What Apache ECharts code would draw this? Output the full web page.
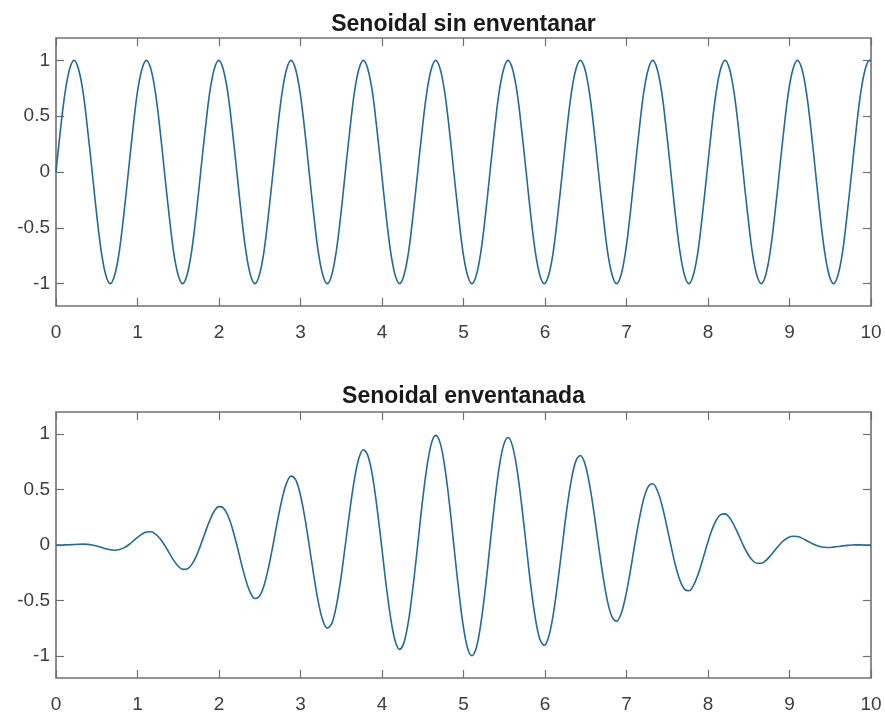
<!DOCTYPE html>
<html>
<head>
<meta charset="utf-8">
<script src="https://cdn.jsdelivr.net/npm/echarts@6/dist/echarts.min.js"></script>
<style>
  html, body { margin: 0; padding: 0; background: #ffffff; }
  #chart { width: 885px; height: 714px; }
</style>
</head>
<body>
<div id="chart"></div>
<script>
// Sample positions (time axis)
const xValues = [
  0, 0.055, 0.111, 0.166, 0.222, 0.277, 0.333, 0.388, 0.444, 0.499, 0.555, 0.610, 0.666, 0.721, 0.777, 0.832,
  0.888, 0.943, 0.998, 1.054, 1.109, 1.165, 1.220, 1.276, 1.331, 1.387, 1.442, 1.498, 1.553, 1.609, 1.664, 1.720,
  1.775, 1.831, 1.886, 1.941, 1.997, 2.052, 2.108, 2.163, 2.219, 2.274, 2.330, 2.385, 2.441, 2.496, 2.552, 2.607,
  2.663, 2.718, 2.774, 2.829, 2.884, 2.940, 2.995, 3.051, 3.106, 3.162, 3.217, 3.273, 3.328, 3.384, 3.439, 3.495,
  3.550, 3.606, 3.661, 3.716, 3.772, 3.827, 3.883, 3.938, 3.994, 4.049, 4.105, 4.160, 4.216, 4.271, 4.327, 4.382,
  4.438, 4.493, 4.549, 4.604, 4.659, 4.715, 4.770, 4.826, 4.881, 4.937, 4.992, 5.048, 5.103, 5.159, 5.214, 5.270,
  5.325, 5.381, 5.436, 5.492, 5.547, 5.602, 5.658, 5.713, 5.769, 5.824, 5.880, 5.935, 5.991, 6.046, 6.102, 6.157,
  6.213, 6.268, 6.324, 6.379, 6.434, 6.490, 6.545, 6.601, 6.656, 6.712, 6.767, 6.823, 6.878, 6.934, 6.989, 7.045,
  7.100, 7.156, 7.211, 7.267, 7.322, 7.377, 7.433, 7.488, 7.544, 7.599, 7.655, 7.710, 7.766, 7.821, 7.877, 7.932,
  7.988, 8.043, 8.099, 8.154, 8.210, 8.265, 8.320, 8.376, 8.431, 8.487, 8.542, 8.598, 8.653, 8.709, 8.764, 8.820,
  8.875, 8.931, 8.986, 9.042, 9.097, 9.153, 9.208, 9.264, 9.319, 9.374, 9.430, 9.485, 9.541, 9.596, 9.652, 9.707,
  9.763, 9.818, 9.874, 9.929, 9.984, 10
];

// Top panel: "Senoidal sin enventanar"
const rawSine = [
  0, 0.38, 0.71, 0.92, 1, 0.92, 0.71, 0.38, 0, -0.38, -0.71, -0.92, -1, -0.92, -0.71, -0.38,
  0, 0.38, 0.71, 0.92, 1, 0.92, 0.71, 0.38, 0, -0.38, -0.71, -0.92, -1, -0.92, -0.71, -0.38,
  0, 0.38, 0.71, 0.92, 1, 0.92, 0.71, 0.38, 0, -0.38, -0.71, -0.92, -1, -0.92, -0.71, -0.38,
  0, 0.38, 0.71, 0.92, 1, 0.92, 0.71, 0.38, 0, -0.38, -0.71, -0.92, -1, -0.92, -0.71, -0.38,
  0, 0.38, 0.71, 0.92, 1, 0.92, 0.71, 0.38, 0, -0.38, -0.71, -0.92, -1, -0.92, -0.71, -0.38,
  0, 0.38, 0.71, 0.92, 1, 0.92, 0.71, 0.38, 0, -0.38, -0.71, -0.92, -1, -0.92, -0.71, -0.38,
  0, 0.38, 0.71, 0.92, 1, 0.92, 0.71, 0.38, 0, -0.38, -0.71, -0.92, -1, -0.92, -0.71, -0.38,
  0, 0.38, 0.71, 0.92, 1, 0.92, 0.71, 0.38, 0, -0.38, -0.71, -0.92, -1, -0.92, -0.71, -0.38,
  0, 0.38, 0.71, 0.92, 1, 0.92, 0.71, 0.38, 0, -0.38, -0.71, -0.92, -1, -0.92, -0.71, -0.38,
  0, 0.38, 0.71, 0.92, 1, 0.92, 0.71, 0.38, 0, -0.38, -0.71, -0.92, -1, -0.92, -0.71, -0.38,
  0, 0.38, 0.71, 0.92, 1, 0.92, 0.71, 0.38, 0, -0.38, -0.71, -0.92, -1, -0.92, -0.71, -0.38,
  0, 0.38, 0.71, 0.92, 1, 1
];

// Bottom panel: "Senoidal enventanada"
const windowedSine = [
  0, 0.000, 0.001, 0.002, 0.005, 0.007, 0.008, 0.006, 0, -0.009, -0.021, -0.034, -0.043, -0.047, -0.041, -0.026,
  0, 0.033, 0.068, 0.098, 0.117, 0.119, 0.099, 0.058, 0, -0.068, -0.136, -0.190, -0.220, -0.217, -0.177, -0.102,
  0, 0.114, 0.221, 0.304, 0.346, 0.335, 0.268, 0.152, 0, -0.165, -0.317, -0.430, -0.483, -0.462, -0.366, -0.205,
  0, 0.218, 0.415, 0.558, 0.621, 0.589, 0.463, 0.257, 0, -0.269, -0.508, -0.679, -0.750, -0.707, -0.551, -0.304,
  0, 0.315, 0.590, 0.783, 0.860, 0.805, 0.624, 0.342, 0, -0.350, -0.653, -0.862, -0.942, -0.877, -0.676, -0.369,
  0, 0.374, 0.693, 0.910, 0.989, 0.917, 0.704, 0.382, 0, -0.383, -0.707, -0.924, -0.999, -0.922, -0.704, -0.380,
  0, 0.377, 0.693, 0.901, 0.970, 0.890, 0.676, 0.364, 0, -0.357, -0.653, -0.845, -0.905, -0.826, -0.624, -0.334,
  0, 0.325, 0.590, 0.759, 0.808, 0.734, 0.551, 0.293, 0, -0.281, -0.508, -0.650, -0.687, -0.620, -0.463, -0.244,
  0, 0.231, 0.415, 0.526, 0.552, 0.494, 0.366, 0.192, 0, -0.178, -0.317, -0.398, -0.413, -0.366, -0.268, -0.139,
  0, 0.126, 0.221, 0.274, 0.281, 0.245, 0.177, 0.090, 0, -0.079, -0.136, -0.165, -0.165, -0.141, -0.099, -0.049,
  0, 0.041, 0.068, 0.079, 0.076, 0.062, 0.041, 0.019, 0, -0.014, -0.021, -0.023, -0.019, -0.014, -0.008, -0.003,
  0, 0.001, 0.001, 0.000, 0.000, 0
];

const xTicks = [0, 1, 2, 3, 4, 5, 6, 7, 8, 9, 10];
const yTicks = [-1, -0.5, 0, 0.5, 1];
const titles = ['Senoidal sin enventanar', 'Senoidal enventanada'];

const FONT = "'Liberation Sans', Arial, Helvetica, sans-serif";
const AXIS_COLOR = '#707070';
const LABEL_COLOR = '#3d3d3d';
const LINE_COLOR = '#22699c';

function pairs(xs, ys) { return xs.map((x, i) => [x, ys[i]]); }

function xAxisPair(gridIndex) {
  const base = {
    gridIndex, type: 'value', min: xTicks[0], max: xTicks[xTicks.length - 1], interval: 1,
    axisLine: { show: false, onZero: false },
    axisTick: { show: true, inside: true, length: 8, lineStyle: { color: AXIS_COLOR, width: 1.2 } },
    splitLine: { show: false }
  };
  return [
    Object.assign({}, base, { position: 'bottom',
      axisLabel: { show: true, margin: 17, fontSize: 19, color: LABEL_COLOR, fontFamily: FONT } }),
    Object.assign({}, base, { position: 'top', axisLabel: { show: false } })
  ];
}

function yAxisPair(gridIndex) {
  const base = {
    gridIndex, type: 'value', min: -1.2, max: 1.2,
    axisLine: { show: false, onZero: false },
    axisTick: { show: true, inside: true, length: 8, customValues: yTicks,
      lineStyle: { color: AXIS_COLOR, width: 1.2 } },
    splitLine: { show: false }
  };
  return [
    Object.assign({}, base, { position: 'left',
      axisLabel: { show: true, customValues: yTicks, margin: 6, fontSize: 19, color: LABEL_COLOR, fontFamily: FONT } }),
    Object.assign({}, base, { position: 'right', axisLabel: { show: false } })
  ];
}

const chart = echarts.init(document.getElementById('chart'), null, { renderer: 'canvas' });
chart.setOption({
  backgroundColor: '#ffffff',
  animation: false,
  title: [
    { text: titles[0], left: 463.5, top: 13, textAlign: 'center', padding: 0,
      textStyle: { fontSize: 23, fontWeight: 'bold', color: '#1a1a1a', fontFamily: FONT } },
    { text: titles[1], left: 463.5, top: 385, textAlign: 'center', padding: 0,
      textStyle: { fontSize: 23, fontWeight: 'bold', color: '#1a1a1a', fontFamily: FONT } }
  ],
  grid: [
    { left: 56, right: 14, top: 38, height: 268, show: true, borderColor: AXIS_COLOR, borderWidth: 1.6, backgroundColor: '#ffffff' },
    { left: 56, right: 14, top: 412, height: 266, show: true, borderColor: AXIS_COLOR, borderWidth: 1.6, backgroundColor: '#ffffff' }
  ],
  xAxis: [].concat(xAxisPair(0), xAxisPair(1)),
  yAxis: [].concat(yAxisPair(0), yAxisPair(1)),
  series: [
    { type: 'line', xAxisIndex: 0, yAxisIndex: 0, data: pairs(xValues, rawSine),
      showSymbol: false, smooth: 0.35, lineStyle: { color: LINE_COLOR, width: 1.6 } },
    { type: 'line', xAxisIndex: 2, yAxisIndex: 2, data: pairs(xValues, windowedSine),
      showSymbol: false, smooth: 0.35, lineStyle: { color: LINE_COLOR, width: 1.6 } }
  ]
});
</script>
</body>
</html>
